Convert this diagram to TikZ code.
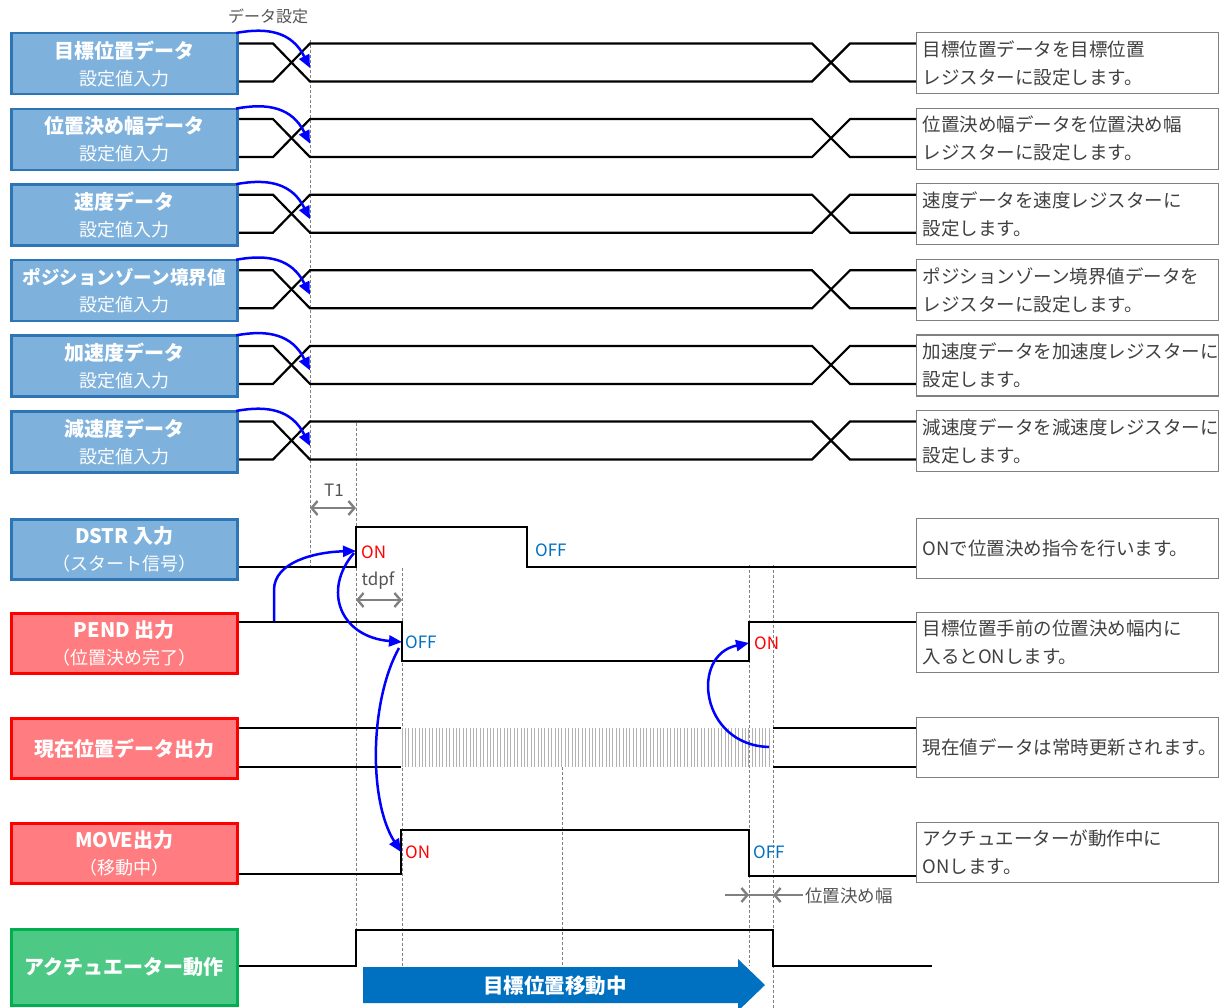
\documentclass[tikz,border=0pt]{standalone}
\usepackage{fontspec}
\setmainfont{Noto Sans CJK JP}
\usetikzlibrary{arrows.meta}
\definecolor{bfill}{RGB}{126,178,221}
\definecolor{bdraw}{RGB}{46,117,182}
\definecolor{rfill}{RGB}{255,124,128}
\definecolor{rdraw}{RGB}{255,0,0}
\definecolor{gfill}{RGB}{78,200,133}
\definecolor{gdraw}{RGB}{0,176,80}
\definecolor{arrblue}{RGB}{0,112,192}
\definecolor{offblue}{RGB}{0,112,192}
\definecolor{txtgray}{RGB}{64,64,64}
\definecolor{dimgray}{RGB}{128,128,128}
\begin{document}
\begin{tikzpicture}[x=1pt,y=-1pt,
  sig/.style={line width=2.2pt,black,line join=miter},
  vdash/.style={dimgray,line width=0.9pt,dash pattern=on 3pt off 2pt},
  hatch/.style={gray!60,line width=1pt},
  bluearr/.style={blue,line width=2.5pt,-{Triangle[length=13pt,width=11pt]}},
  dimarr/.style={dimgray,line width=2.4pt,{Straight Barb[length=6pt,width=14pt]}-{Straight Barb[length=6pt,width=14pt]}},
  lbox/.style={line width=2.5pt,minimum width=226pt,minimum height=61pt,anchor=north west,align=center,text=white,inner sep=0pt,font=\fontsize{18}{27}\selectfont},
  bluebox/.style={lbox,fill=bfill,draw=bdraw},
  redbox/.style={lbox,fill=rfill,draw=rdraw},
  greenbox/.style={lbox,fill=gfill,draw=gdraw},
  rbox/.style={draw=dimgray,line width=1.2pt,fill=white,minimum width=302pt,minimum height=60pt,anchor=north west,text width=290pt,inner xsep=6pt,inner ysep=0pt,align=left,text=txtgray,font=\fontsize{18.5}{28}\selectfont},
  onlbl/.style={anchor=west,text=red,inner sep=0pt,font=\fontsize{17}{20}\selectfont},
  offlbl/.style={anchor=west,text=offblue,inner sep=0pt,font=\fontsize{17}{20}\selectfont},
  glbl/.style={text=txtgray!90,inner sep=0pt,font=\fontsize{17}{20}\selectfont}
]
\useasboundingbox (0,0) rectangle (1228,1008);

% dashed vertical guide lines
\draw[vdash] (310,40) -- (310,570);
\draw[vdash] (356,423) -- (356,930);
\draw[vdash] (402,568) -- (402,966);
\draw[vdash] (562,767) -- (562,966);
\draw[vdash] (749,565) -- (749,966);
\draw[vdash] (773,565) -- (773,1008);

% data rows
\foreach \i in {0,...,5}{
  \pgfmathsetmacro\t{32+75.6*\i}
  \pgfmathsetmacro\u{\t+11.5}
  \pgfmathsetmacro\l{\t+49.5}
  \draw[sig] (236,\u)--(273,\u)--(310,\l)--(812,\l)--(850,\u)--(916,\u);
  \draw[sig] (236,\l)--(273,\l)--(310,\u)--(812,\u)--(850,\l)--(916,\l);
}

% DSTR
\draw[sig] (236,567)--(356,567)--(356,527)--(527,527)--(527,567)--(916,567);
% PEND
\draw[sig] (236,622)--(402,622)--(402,661)--(749,661)--(749,622)--(916,622);
% current position
\draw[sig] (236,728)--(401,728);
\draw[sig] (236,767)--(401,767);
\draw[sig] (773,728)--(916,728);
\draw[sig] (773,767)--(916,767);
\foreach \x in {402,405.4,...,772}{\draw[hatch] (\x,728)--(\x,767);}
% MOVE
\draw[sig] (236,874)--(401,874)--(401,830)--(749,830)--(749,876)--(916,876);
% actuator
\draw[sig] (236,966)--(356,966)--(356,930)--(773,930)--(773,966)--(932,966);

% big arrow
\fill[arrblue] (363,967)--(738,967)--(738,959)--(765,985)--(738,1011)--(738,1003)--(363,1003)--cycle;
\node[text=white,font=\fontsize{20.5}{24}\selectfont\bfseries] (mv) at (555,986) {目標位置移動中};

% left boxes
\node[bluebox] (L1) at (10,32) {{\fontsize{20}{27}\selectfont\bfseries 目標位置データ}\\設定値入力};
\node[bluebox] (L2) at (10,107.6) {{\fontsize{20}{27}\selectfont\bfseries 位置決め幅データ}\\設定値入力};
\node[bluebox] (L3) at (10,183.2) {{\fontsize{20}{27}\selectfont\bfseries 速度データ}\\設定値入力};
\node[bluebox] (L4) at (10,258.8) {{\fontsize{18.5}{27}\selectfont\bfseries ポジションゾーン境界値}\\設定値入力};
\node[bluebox] (L5) at (10,334.4) {{\fontsize{20}{27}\selectfont\bfseries 加速度データ}\\設定値入力};
\node[bluebox] (L6) at (10,410) {{\fontsize{20}{27}\selectfont\bfseries 減速度データ}\\設定値入力};
\node[bluebox,minimum height=60pt] (L7) at (10,518) {{\fontsize{20}{27}\selectfont\bfseries DSTR 入力}\\（スタート信号）};
\node[redbox,minimum height=60pt] (L8) at (10,612) {{\fontsize{20}{27}\selectfont\bfseries PEND 出力}\\（位置決め完了）};
\node[redbox,minimum height=60pt] (L9) at (10,717) {{\fontsize{20}{27}\selectfont\bfseries 現在位置データ出力}};
\node[redbox,minimum height=60pt] (L10) at (10,822) {{\fontsize{20}{27}\selectfont\bfseries MOVE出力}\\（移動中）};
\node[greenbox,minimum height=76pt] (L11) at (10,928) {{\fontsize{20}{27}\selectfont\bfseries アクチュエーター動作}};

% right boxes
\node[rbox,minimum height=61pt] (R1) at (916,32) {目標位置データを目標位置\\レジスターに設定します。};
\node[rbox,minimum height=61pt] (R2) at (916,107.6) {位置決め幅データを位置決め幅\\レジスターに設定します。};
\node[rbox,minimum height=61pt] (R3) at (916,183.2) {速度データを速度レジスターに\\設定します。};
\node[rbox,minimum height=61pt] (R4) at (916,258.8) {ポジションゾーン境界値データを\\レジスターに設定します。};
\node[rbox,minimum height=61pt] (R5) at (916,334.4) {加速度データを加速度レジスターに\\設定します。};
\node[rbox,minimum height=61pt] (R6) at (916,410) {減速度データを減速度レジスターに\\設定します。};
\node[rbox] (R7) at (916,518) {ONで位置決め指令を行います。};
\node[rbox] (R8) at (916,612) {目標位置手前の位置決め幅内に\\入るとONします。};
\node[rbox] (R9) at (916,717) {現在値データは常時更新されます。};
\node[rbox] (R10) at (916,822) {アクチュエーターが動作中に\\ONします。};

% state labels
\node[onlbl] (on1) at (361,552) {ON};
\node[offlbl] (off1) at (535,550) {OFF};
\node[offlbl] (off2) at (405,642) {OFF};
\node[onlbl] (on2) at (754,643) {ON};
\node[onlbl] (on3) at (405,852) {ON};
\node[offlbl] (off3) at (753,852) {OFF};

% dimension labels
\node[glbl,font=\fontsize{16}{18}\selectfont] (ds) at (268,16) {データ設定};
\node[glbl] (t1) at (334,490) {T1};
\draw[dimarr] (310,508) -- (356,508);
\node[glbl] (tdpf) at (378,581) {tdpf};
\draw[dimarr] (356,600) -- (402,600);
\draw[dimgray,line width=1.4pt] (725,895) -- (803,895);
\draw[dimgray,line width=2.4pt,-{Straight Barb[length=6pt,width=14pt]}] (725,895) -- (749,895);
\draw[dimgray,line width=2.4pt,-{Straight Barb[length=6pt,width=14pt]}] (803,895) -- (773,895);
\node[glbl,anchor=west,font=\fontsize{17.5}{20}\selectfont] (pw) at (805,896) {位置決め幅};

% blue data-setting arrows
\foreach \i in {0,...,5}{
  \pgfmathsetmacro\t{32+75.6*\i}
  \draw[bluearr] (236,\t+1) .. controls (268,\t-5) and (292,\t) .. (310,\t+36);
}
% blue causal arrows
\draw[bluearr] (274,621) -- (274,590) .. controls (274,562) and (315,552) .. (356,551);
\draw[bluearr] (354,553) .. controls (322,590) and (340,637) .. (402,642);
\draw[bluearr] (399,648) .. controls (370,700) and (368,800) .. (401,852);
\draw[bluearr] (769,747) .. controls (700,745) and (690,655) .. (749,643);
\end{tikzpicture}
\end{document}
